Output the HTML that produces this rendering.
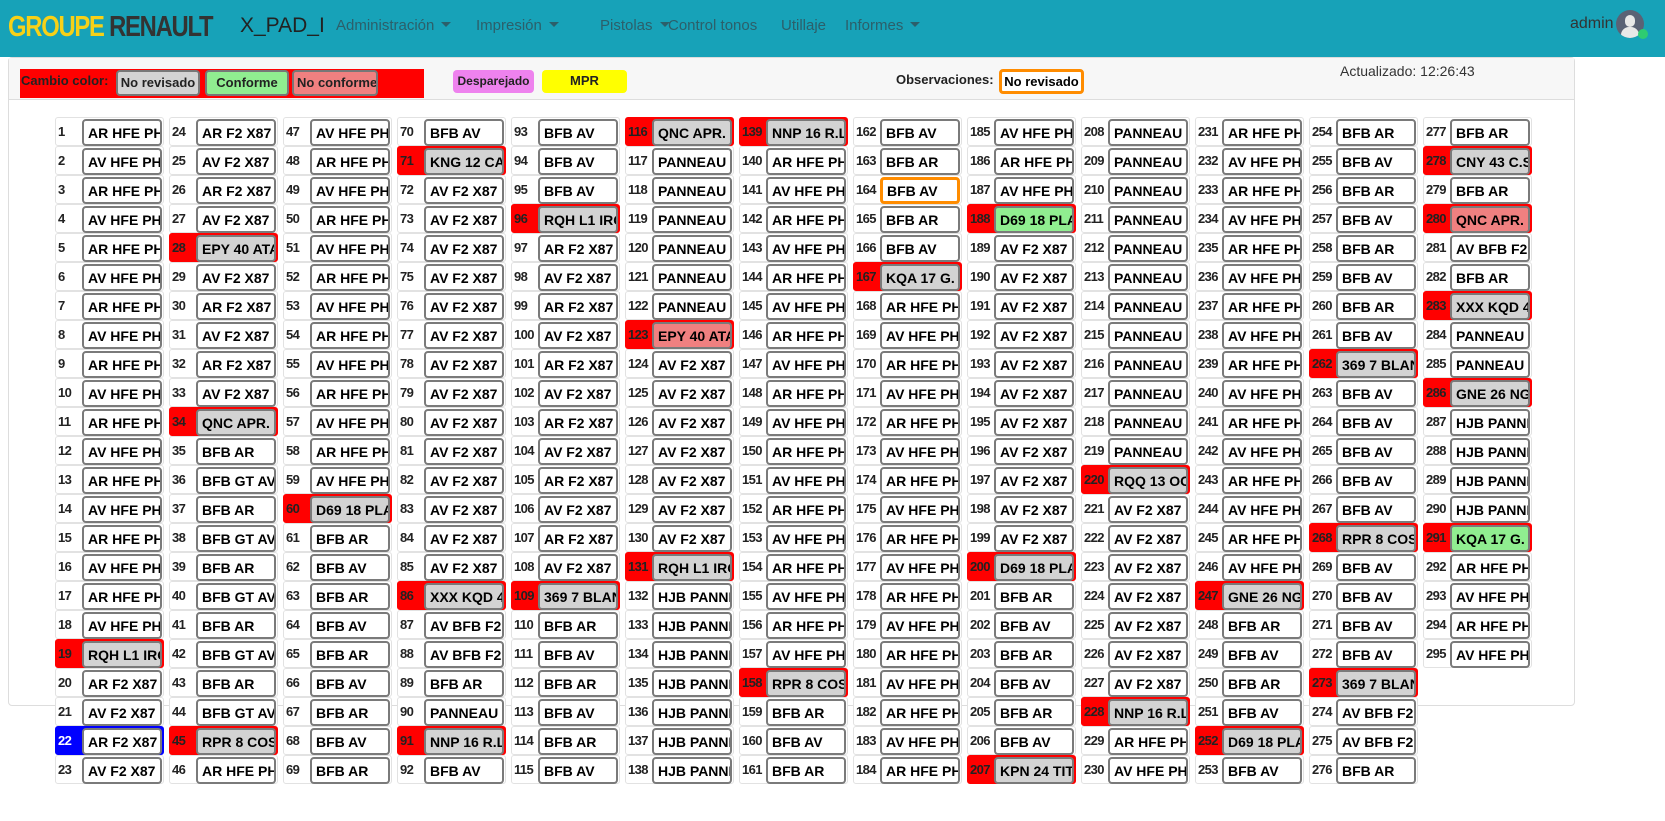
<!DOCTYPE html>
<html><head><meta charset="utf-8">
<style>
*{box-sizing:border-box;margin:0;padding:0}
body{width:1665px;height:821px;overflow:hidden;background:#fff;font-family:"Liberation Sans",sans-serif;position:relative}
.nav{position:absolute;left:0;top:0;width:1665px;height:57px;background:#17a2b8}
.nav .m{position:absolute;top:17px;font-size:15px;color:#2c5f6a}
.caret{display:inline-block;width:0;height:0;border-left:5px solid transparent;border-right:5px solid transparent;border-top:5px solid #2c5f6a;margin-left:7px;vertical-align:3px}
.card{position:absolute;left:8px;top:57px;width:1567px;height:649px;border:1px solid #ddd;border-radius:4px;background:#fff}
.chead{position:absolute;left:0;top:0;width:100%;height:42px;background:#f7f7f7;border-bottom:1px solid #ddd}
.lb{position:absolute;border:2px solid #777;border-radius:4px;font-weight:bold;font-size:13px;text-align:center;line-height:22px;color:#222;overflow:hidden;white-space:nowrap}
.cell{position:absolute;width:109px;height:29px;border:1px solid #e2e2e2;border-radius:3px;background:#fff}
.cell .n{position:absolute;left:2px;top:6px;font-size:13px;font-weight:bold;color:#222;letter-spacing:-0.6px}
.cell .b{position:absolute;left:26px;top:1px;width:80px;height:27px;border:2px solid #7a7a7a;border-radius:4px;background:#fff;font-size:14px;font-weight:bold;color:#000;padding-left:4px;line-height:24px;white-space:nowrap;overflow:hidden}
</style></head><body>
<div class="nav">
 <div style="position:absolute;left:8px;top:11px;font-size:29px;font-weight:bold;letter-spacing:-1.5px;transform:scaleX(0.82);transform-origin:left"><span style="color:#f7d117">GROUPE</span> <span style="color:#333">RENAULT</span></div>
 <div style="position:absolute;left:240px;top:14px;font-size:21px;color:#222">X_PAD_I</div>
 <div class="m" style="left:336px">Administración<span class="caret"></span></div>
 <div class="m" style="left:476px">Impresión<span class="caret"></span></div>
 <div class="m" style="left:600px">Pistolas<span class="caret"></span></div>
 <div class="m" style="left:668px">Control tonos</div>
 <div class="m" style="left:781px">Utillaje</div>
 <div class="m" style="left:845px">Informes<span class="caret"></span></div>
 <div class="m" style="left:1570px;top:15px;color:#333;font-size:16px">admin</div>
 <div style="position:absolute;left:1616px;top:10px;width:28px;height:28px;border-radius:50%;background:#5a6275;overflow:hidden">
  <div style="position:absolute;left:9px;top:5px;width:10px;height:12px;border-radius:5px;background:#e8e8e8"></div>
  <div style="position:absolute;left:5px;top:17px;width:18px;height:14px;border-radius:8px 8px 0 0;background:#e8e8e8"></div>
 </div>
 <div style="position:absolute;left:1638px;top:29px;width:10px;height:10px;border-radius:50%;background:#2ecc71"></div>
</div>
<div class="card">
 <div class="chead"></div>
</div>
<div style="position:absolute;left:20px;top:69px;width:404px;height:29px;background:#f00"></div>
<div style="position:absolute;left:21px;top:73px;font-size:13px;font-weight:bold;color:#222">Cambio color:</div>
<div class="lb" style="left:116px;top:70px;width:84px;height:26px;background:#d3d3d3">No revisado</div>
<div class="lb" style="left:205px;top:70px;width:84px;height:26px;background:#90ee90">Conforme</div>
<div class="lb" style="left:292px;top:70px;width:86px;height:26px;background:#f08080;text-align:left;padding-left:3px">No conforme</div>
<div class="lb" style="left:453px;top:70px;width:81px;height:23px;border:none;background:#ee82ee;font-size:12px">Desparejado</div>
<div class="lb" style="left:542px;top:70px;width:85px;height:23px;border:none;background:#ff0">MPR</div>
<div style="position:absolute;left:896px;top:72px;font-size:13px;font-weight:bold;color:#222">Observaciones:</div>
<div class="lb" style="left:999px;top:69px;width:85px;height:25px;border:3px solid #ff8c00;background:#fff;line-height:20px;font-size:13px;color:#000">No revisado</div>
<div style="position:absolute;left:1340px;top:63px;font-size:14px;color:#333">Actualizado: 12:26:43</div>
<div id="grid"></div>
<script>
const labels = ["","AR HFE PH2","AV HFE PH2","AR HFE PH2","AV HFE PH2","AR HFE PH2","AV HFE PH2","AR HFE PH2","AV HFE PH2","AR HFE PH2","AV HFE PH2","AR HFE PH2","AV HFE PH2","AR HFE PH2","AV HFE PH2","AR HFE PH2","AV HFE PH2","AR HFE PH2","AV HFE PH2","RQH L1 IRC","AR F2 X87","AV F2 X87","AR F2 X87","AV F2 X87",
"AR F2 X87","AV F2 X87","AR F2 X87","AV F2 X87","EPY 40 ATA","AV F2 X87","AR F2 X87","AV F2 X87","AR F2 X87","AV F2 X87","QNC APR. S","BFB AR","BFB GT AV","BFB AR","BFB GT AV","BFB AR","BFB GT AV","BFB AR","BFB GT AV","BFB AR","BFB GT AV","RPR 8 COSM","AR HFE PH2",
"AV HFE PH2","AR HFE PH2","AV HFE PH2","AR HFE PH2","AV HFE PH2","AR HFE PH2","AV HFE PH2","AR HFE PH2","AV HFE PH2","AR HFE PH2","AV HFE PH2","AR HFE PH2","AV HFE PH2","D69 18 PLA","BFB AR","BFB AV","BFB AR","BFB AV","BFB AR","BFB AV","BFB AR","BFB AV","BFB AR",
"BFB AV","KNG 12 CAS","AV F2 X87","AV F2 X87","AV F2 X87","AV F2 X87","AV F2 X87","AV F2 X87","AV F2 X87","AV F2 X87","AV F2 X87","AV F2 X87","AV F2 X87","AV F2 X87","AV F2 X87","AV F2 X87","XXX KQD 4","AV BFB F2","AV BFB F2","BFB AR","PANNEAU","NNP 16 R.L","BFB AV",
"BFB AV","BFB AV","BFB AV","RQH L1 IRC","AR F2 X87","AV F2 X87","AR F2 X87","AV F2 X87","AR F2 X87","AV F2 X87","AR F2 X87","AV F2 X87","AR F2 X87","AV F2 X87","AR F2 X87","AV F2 X87","369 7 BLAN","BFB AR","BFB AV","BFB AR","BFB AV","BFB AR","BFB AV",
"QNC APR. S","PANNEAU","PANNEAU","PANNEAU","PANNEAU","PANNEAU","PANNEAU","EPY 40 ATA","AV F2 X87","AV F2 X87","AV F2 X87","AV F2 X87","AV F2 X87","AV F2 X87","AV F2 X87","RQH L1 IRC","HJB PANNE","HJB PANNE","HJB PANNE","HJB PANNE","HJB PANNE","HJB PANNE","HJB PANNE",
"NNP 16 R.L","AR HFE PH2","AV HFE PH2","AR HFE PH2","AV HFE PH2","AR HFE PH2","AV HFE PH2","AR HFE PH2","AV HFE PH2","AR HFE PH2","AV HFE PH2","AR HFE PH2","AV HFE PH2","AR HFE PH2","AV HFE PH2","AR HFE PH2","AV HFE PH2","AR HFE PH2","AV HFE PH2","RPR 8 COSM","BFB AR","BFB AV","BFB AR",
"BFB AV","BFB AR","BFB AV","BFB AR","BFB AV","KQA 17 G. I","AR HFE PH2","AV HFE PH2","AR HFE PH2","AV HFE PH2","AR HFE PH2","AV HFE PH2","AR HFE PH2","AV HFE PH2","AR HFE PH2","AV HFE PH2","AR HFE PH2","AV HFE PH2","AR HFE PH2","AV HFE PH2","AR HFE PH2","AV HFE PH2","AR HFE PH2",
"AV HFE PH2","AR HFE PH2","AV HFE PH2","D69 18 PLA","AV F2 X87","AV F2 X87","AV F2 X87","AV F2 X87","AV F2 X87","AV F2 X87","AV F2 X87","AV F2 X87","AV F2 X87","AV F2 X87","AV F2 X87","D69 18 PLA","BFB AR","BFB AV","BFB AR","BFB AV","BFB AR","BFB AV","KPN 24 TIT",
"PANNEAU","PANNEAU","PANNEAU","PANNEAU","PANNEAU","PANNEAU","PANNEAU","PANNEAU","PANNEAU","PANNEAU","PANNEAU","PANNEAU","RQQ 13 OC","AV F2 X87","AV F2 X87","AV F2 X87","AV F2 X87","AV F2 X87","AV F2 X87","AV F2 X87","NNP 16 R.L","AR HFE PH2","AV HFE PH2",
"AR HFE PH2","AV HFE PH2","AR HFE PH2","AV HFE PH2","AR HFE PH2","AV HFE PH2","AR HFE PH2","AV HFE PH2","AR HFE PH2","AV HFE PH2","AR HFE PH2","AV HFE PH2","AR HFE PH2","AV HFE PH2","AR HFE PH2","AV HFE PH2","GNE 26 NG","BFB AR","BFB AV","BFB AR","BFB AV","D69 18 PLA","BFB AV",
"BFB AR","BFB AV","BFB AR","BFB AV","BFB AR","BFB AV","BFB AR","BFB AV","369 7 BLAN","BFB AV","BFB AV","BFB AV","BFB AV","BFB AV","RPR 8 COSM","BFB AV","BFB AV","BFB AV","BFB AV","369 7 BLAN","AV BFB F2","AV BFB F2","BFB AR",
"BFB AR","CNY 43 C.S","BFB AR","QNC APR. S","AV BFB F2","BFB AR","XXX KQD 4","PANNEAU","PANNEAU","GNE 26 NG","HJB PANNE","HJB PANNE","HJB PANNE","HJB PANNE","KQA 17 G. I","AR HFE PH2","AV HFE PH2","AR HFE PH2","AV HFE PH2"];
const redCells = [19,28,34,45,60,71,86,91,96,109,116,123,131,139,158,167,188,200,207,220,228,247,252,262,268,273,278,280,283,286,291];
const coralButtons = [123,280];
const greenButtons = [188,291];
const blueCells = [22];
const orangeButtons = [164];
const grid = document.getElementById('grid');
for (let i = 1; i < labels.length; i++) {
  const col = Math.floor((i-1)/23), row = (i-1)%23;
  const c = document.createElement('div');
  c.className = 'cell';
  
  
  c.style.left = (55 + col*114) + 'px';
  c.style.top = (117 + row*29) + 'px';
  const n = document.createElement('div');
  n.className = 'n'; n.textContent = i;
  
  
  const b = document.createElement('div');
  b.className = 'b'; b.textContent = labels[i];
  
  
  if (redCells.includes(i)) { c.style.background = '#f00'; c.style.borderColor = '#f00'; b.style.background = '#d3d3d3'; }
  if (coralButtons.includes(i)) b.style.background = '#f08080';
  if (greenButtons.includes(i)) b.style.background = '#90ee90';
  if (blueCells.includes(i)) { c.style.background = '#00f'; c.style.borderColor = '#00f'; n.style.color = '#fff'; }
  if (orangeButtons.includes(i)) { b.style.border = '3px solid #ff8c00'; b.style.lineHeight = '22px'; }
  c.appendChild(n); c.appendChild(b); grid.appendChild(c);
}
</script>
</body></html>
